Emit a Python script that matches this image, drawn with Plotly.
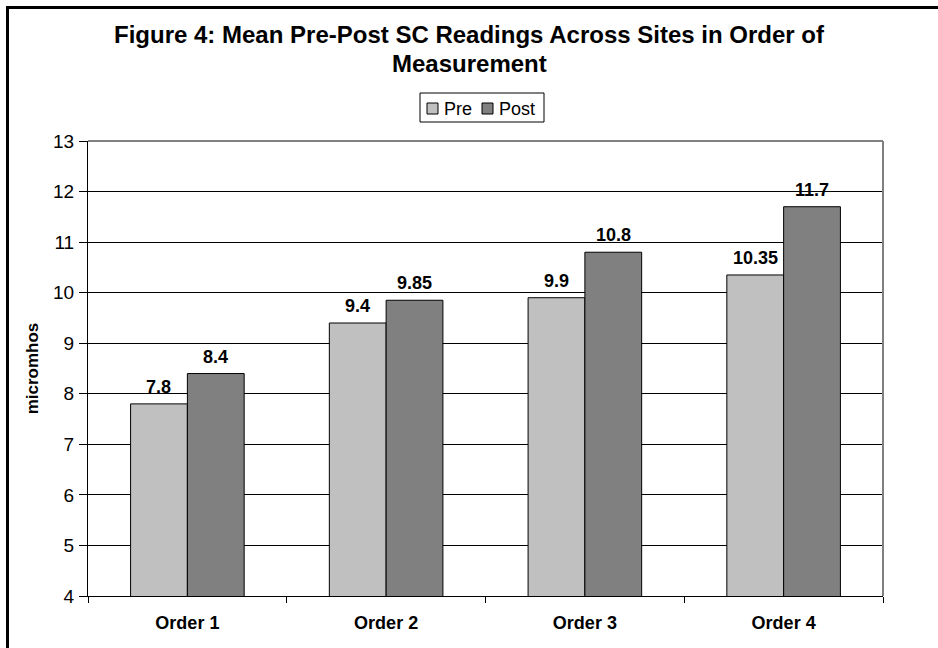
import plotly.graph_objects as go

categories = ["Order 1", "Order 2", "Order 3", "Order 4"]
pre_values = [7.8, 9.4, 9.9, 10.35]
post_values = [8.4, 9.85, 10.8, 11.7]
pre_labels = ["7.8", "9.4", "9.9", "10.35"]
post_labels = ["8.4", "9.85", "10.8", "11.7"]
series_names = ["Pre", "Post"]
series_colors = ["#C0C0C0", "#808080"]
y_ticks = [4, 5, 6, 7, 8, 9, 10, 11, 12, 13]

FONT = "Liberation Sans, Arial"
W, H = 938, 648
L, R, T, B = 88, 55, 141, 52
PW = W - L - R
PH = H - T - B

fig = go.Figure()
fig.add_trace(go.Bar(name=series_names[0], x=categories, y=pre_values, showlegend=False,
                     marker=dict(color=series_colors[0], line=dict(color="#000000", width=1))))
fig.add_trace(go.Bar(name=series_names[1], x=categories, y=post_values, showlegend=False,
                     marker=dict(color=series_colors[1], line=dict(color="#000000", width=1))))

cat_w = PW / len(categories)
bar_w = cat_w / 3.5
annotations = []
for vals, labs, sh in ((pre_values, pre_labels, -bar_w / 2), (post_values, post_labels, bar_w / 2)):
    for cat, v, t in zip(categories, vals, labs):
        annotations.append(dict(x=cat, y=v, text="<b>%s</b>" % t, xref="x", yref="y",
                                showarrow=False, xshift=sh, yanchor="bottom", yshift=5,
                                font=dict(family=FONT, size=18, color="#000")))


def px_x(p):
    return (p - L) / PW


def px_y(p):
    return (H - B - p) / PH


# second title line
annotations.append(dict(text="<b>Measurement</b>", xref="paper", yref="paper",
                        x=px_x(469), y=px_y(64), xanchor="center", yanchor="middle",
                        showarrow=False, font=dict(family=FONT, size=24, color="#000")))

shapes = [
    # outer frame (left & top visible)
    dict(type="rect", xref="paper", yref="paper", x0=px_x(7.5), y0=px_y(700), x1=px_x(1000), y1=px_y(7.5),
         line=dict(color="#000", width=3), fillcolor="rgba(0,0,0,0)", layer="above"),
    # plot area top & right border (gray)
    dict(type="line", xref="paper", yref="paper", x0=0, y0=1, x1=1, y1=1,
         line=dict(color="#808080", width=2), layer="above"),
    dict(type="line", xref="paper", yref="paper", x0=1, y0=0, x1=1, y1=1,
         line=dict(color="#808080", width=2), layer="above"),
    # legend box
    dict(type="rect", xref="paper", yref="paper", x0=px_x(420), y0=px_y(122), x1=px_x(544), y1=px_y(93),
         line=dict(color="#000", width=1), fillcolor="#FFF", layer="above"),
]

legend_items = [(series_names[0], series_colors[0], 427), (series_names[1], series_colors[1], 482)]
for name, col, x0 in legend_items:
    shapes.append(dict(type="rect", xref="paper", yref="paper",
                       x0=px_x(x0), x1=px_x(x0 + 11), y0=px_y(114), y1=px_y(103),
                       line=dict(color="#000", width=1), fillcolor=col, layer="above"))
    annotations.append(dict(text=name, xref="paper", yref="paper", x=px_x(x0 + 15), y=px_y(108.5),
                            xanchor="left", yanchor="middle", showarrow=False,
                            font=dict(family=FONT, size=18, color="#000")))

fig.update_layout(
    width=W, height=H,
    margin=dict(l=L, r=R, t=T, b=B, autoexpand=False),
    paper_bgcolor="#FFFFFF", plot_bgcolor="#FFFFFF",
    font=dict(family=FONT, color="#000"),
    title=dict(text="<b>Figure 4: Mean Pre-Post SC Readings Across Sites in Order of</b>",
               x=0.5, xref="container", xanchor="center",
               y=1 - 35 / H, yref="container", yanchor="middle",
               font=dict(family=FONT, size=24, color="#000")),
    barmode="group", bargap=1.5 / 3.5, bargroupgap=0,
    showlegend=False,
    hovermode=False,
    xaxis=dict(type="category", showline=True, linecolor="#000", linewidth=1,
               ticks="outside", tickson="boundaries", ticklen=6, tickcolor="#000",
               showgrid=False, tickfont=dict(size=18, family=FONT, color="#000"),
               tickprefix="<b>", ticksuffix="</b>", ticklabelstandoff=10),
    yaxis=dict(range=[4, 13], tickvals=y_ticks, showline=True, linecolor="#000", linewidth=1,
               ticks="outside", ticklen=8, tickcolor="#000",
               showgrid=True, gridcolor="#000", gridwidth=1, zeroline=False,
               tickfont=dict(size=19, family=FONT, color="#000"),
               ticklabelstandoff=1,
               title=dict(text="<b>micromhos</b>", standoff=10,
                          font=dict(size=17, family=FONT, color="#000"))),
    annotations=annotations,
    shapes=shapes,
)

fig.write_html("out.html", config={"displayModeBar": False},
               post_script="document.body.style.margin='0';")
